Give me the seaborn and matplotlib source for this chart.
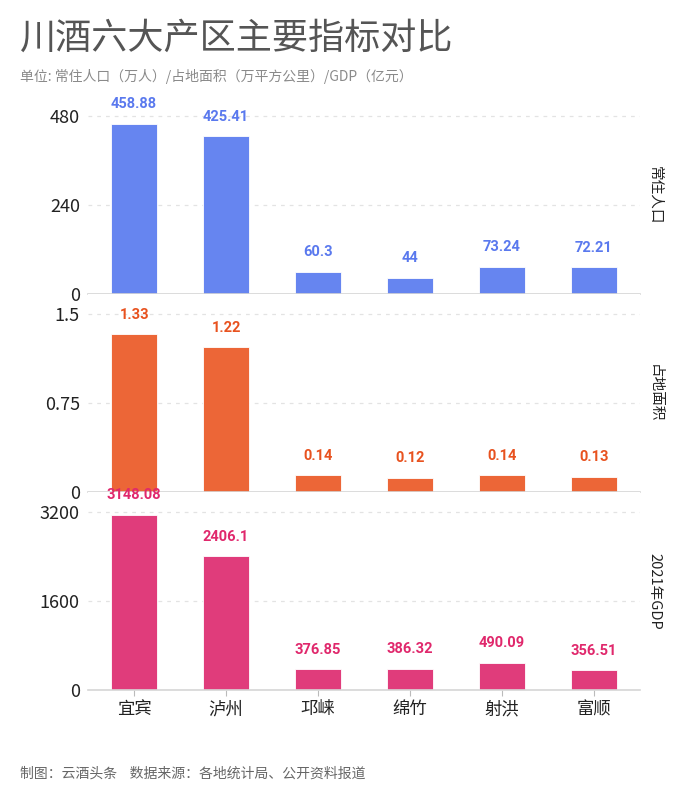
import matplotlib.pyplot as plt
import seaborn as sns
import pandas as pd
import numpy as np

# data
regions = ['宜宾', '泸州', '邛崃', '绵竹', '射洪', '富顺']
population = [458.88, 425.41, 60.3, 44, 73.24, 72.21]
area = [1.33, 1.22, 0.14, 0.12, 0.14, 0.13]
gdp = [3148.08, 2406.1, 376.85, 386.32, 490.09, 356.51]

row_titles = ['常住人口', '占地面积', '2021年GDP']
row_ticks = [[0, 240, 480], [0, 0.75, 1.5], [0, 1600, 3200]]
row_tick_labels = [['0', '240', '480'], ['0', '0.75', '1.5'], ['0', '1600', '3200']]
bar_colors = ['#6685F0', '#EC6637', '#E03C7B']
text_colors = ['#5A79EE', '#E8521F', '#E0286C']

sns.set_style('white')
plt.rcParams['font.family'] = ['Noto Sans CJK SC', 'DejaVu Sans']

fig, axes = plt.subplots(3, 1, figsize=(7, 8), dpi=100, sharex=True)
fig.subplots_adjust(left=0.126, right=0.914, top=0.88, bottom=0.1375, hspace=0)

series = [population, area, gdp]
for i, ax in enumerate(axes):
    df = pd.DataFrame({'region': regions, 'value': series[i]})
    sns.barplot(data=df, x='region', y='value', ax=ax, color=bar_colors[i],
                width=0.5, saturation=1, edgecolor='#ffffff', linewidth=0.6)
    top = row_ticks[i][-1] * 198 / 178
    ax.set_ylim(0, top)
    ax.set_yticks(row_ticks[i])
    ax.set_yticklabels(row_tick_labels[i], fontsize=13, color='#222222')
    ax.set_xlabel('')
    ax.set_ylabel('')
    for t in row_ticks[i][1:]:
        ax.axhline(t, color='#e3e3e3', lw=0.9, ls=(0, (3, 4)), zorder=0)
    for s in ['top', 'right', 'left']:
        ax.spines[s].set_visible(False)
    ax.spines['bottom'].set_color('#d6d6d6')
    ax.spines['bottom'].set_linewidth(1.2)
    ax.tick_params(axis='y', length=4, color='#d6d6d6', width=1, pad=2)
    ax.tick_params(axis='x', length=4, color='#bbbbbb', width=0.8, labelsize=12.5,
                   labelcolor='#222222', bottom=True)
    for j, v in enumerate(series[i]):
        ax.annotate(f'{v:g}', (j, v), xytext=(0, 9), textcoords='offset points',
                    ha='center', va='bottom', fontsize=10.5, fontweight='bold',
                    color=text_colors[i], family=['Roboto', 'DejaVu Sans'],
                    annotation_clip=False)
    ax.text(1.027, 0.5, row_titles[i], transform=ax.transAxes, rotation=-90,
            ha='center', va='center', fontsize=10.5, color='#222222')

axes[-1].set_xticks(range(len(regions)))
axes[-1].set_xticklabels(regions)

fig.text(0.028, 0.952, '川酒六大产区主要指标对比', fontsize=26, color='#555555',
         fontweight='light', va='center', ha='left')
fig.text(0.028, 0.905, '单位: 常住人口（万人）/占地面积（万平方公里）/GDP（亿元）',
         fontsize=10, color='#8a8a8a', va='center', ha='left')
fig.text(0.028, 0.033, '制图：云酒头条    数据来源：各地统计局、公开资料报道',
         fontsize=10, color='#666666', va='center', ha='left')

plt.savefig('out.png', dpi=100)
